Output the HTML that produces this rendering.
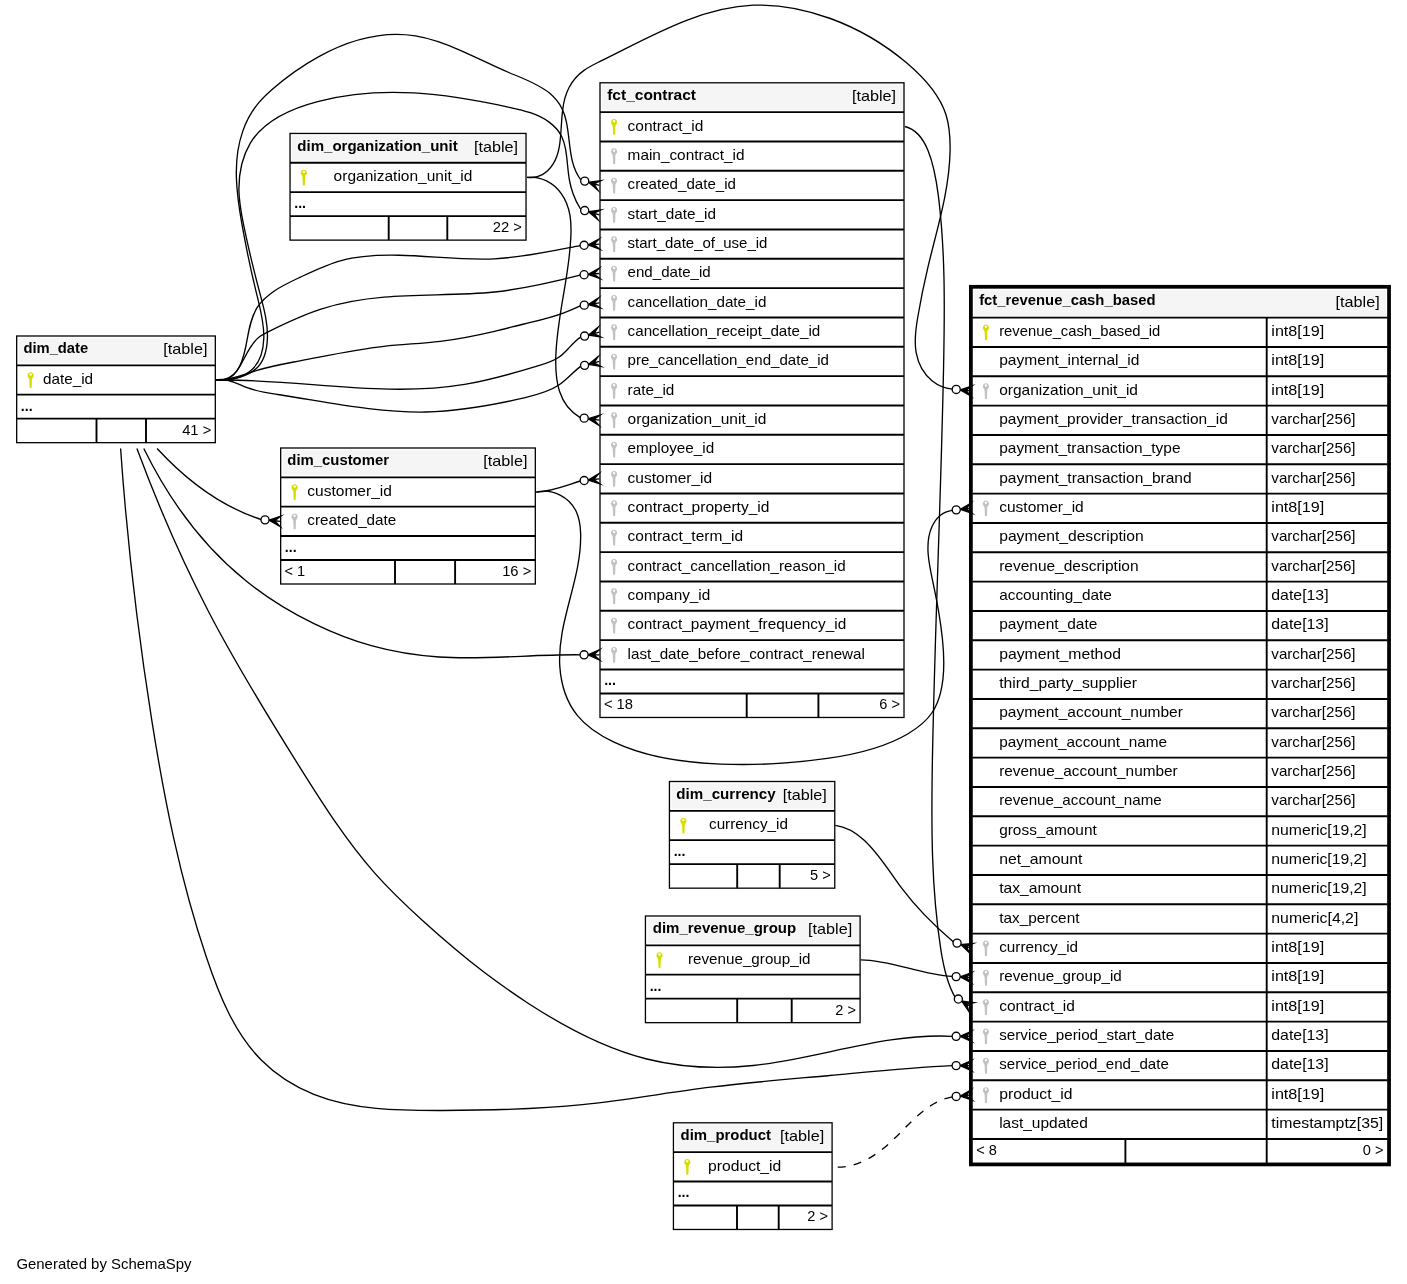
<!DOCTYPE html>
<html><head><meta charset="utf-8"><title>fct_revenue_cash_based</title>
<style>
html,body{margin:0;padding:0;background:#fff;}
svg{display:block;will-change:transform}
text{font-family:"Liberation Sans",sans-serif;font-size:15.0px;fill:#000;}
text.b{font-weight:bold}
</style></head><body>
<svg width="1407" height="1284" viewBox="0 0 1407 1284">
<defs>
<g id="k"><path fill-rule="evenodd" d="M0,-0.1a3.15,3.15 0 0 1 1.9,5.65 L1.2,7.4 L1.35,7.8 L1.15,8.3 L1.4,8.8 L1.15,9.4 L1.4,10 L1.15,10.6 L1.35,11.1 L1.15,11.7 L1.15,15.2 Q0.1,16.3 -0.95,15.2 L-1.3,7.4 L-1.9,5.55 A3.15,3.15 0 0 1 0,-0.1 Z M0,0.9 a1.2,1.2 0 1 0 0.001,0 Z"/></g>
</defs>
<rect width="1407" height="1284" fill="#fff"/>
<g>
<rect x="16.67" y="336.00" width="198.66" height="106.67" fill="#fff"/>
<rect x="18.67" y="338.00" width="196.01" height="25.13" fill="#f5f5f5"/>
<text x="23.40" y="353.20" textLength="64.80" lengthAdjust="spacingAndGlyphs" class="b">dim_date</text>
<text x="163.31" y="354.45" textLength="44.13" lengthAdjust="spacingAndGlyphs">[table]</text>
<use href="#k" x="30.60" y="372.33" fill="#d6de00"/>
<text x="43.00" y="383.73" textLength="50.06" lengthAdjust="spacingAndGlyphs">date_id</text>
<text x="20.87" y="410.57" textLength="11.77" lengthAdjust="spacingAndGlyphs" class="b">...</text>
<text x="182.16" y="434.57" textLength="29.10" lengthAdjust="spacingAndGlyphs">41 &gt;</text>
<line x1="16.67" y1="365.33" x2="215.33" y2="365.33" stroke="#000" stroke-width="1.900"/>
<line x1="16.67" y1="394.67" x2="215.33" y2="394.67" stroke="#000" stroke-width="1.900"/>
<line x1="16.67" y1="418.67" x2="215.33" y2="418.67" stroke="#000" stroke-width="1.900"/>
<line x1="96.50" y1="418.67" x2="96.50" y2="442.67" stroke="#000" stroke-width="1.900"/>
<line x1="146.00" y1="418.67" x2="146.00" y2="442.67" stroke="#000" stroke-width="1.900"/>
<rect x="16.67" y="336.00" width="198.66" height="106.67" fill="none" stroke="#000" stroke-width="1.300"/>
<rect x="290.03" y="133.45" width="236.00" height="106.67" fill="#fff"/>
<rect x="292.03" y="135.45" width="233.35" height="25.13" fill="#f5f5f5"/>
<text x="297.30" y="150.65" textLength="160.43" lengthAdjust="spacingAndGlyphs" class="b">dim_organization_unit</text>
<text x="474.01" y="151.90" textLength="44.13" lengthAdjust="spacingAndGlyphs">[table]</text>
<use href="#k" x="303.80" y="169.78" fill="#d6de00"/>
<text x="333.60" y="181.18" textLength="138.80" lengthAdjust="spacingAndGlyphs">organization_unit_id</text>
<text x="294.23" y="208.02" textLength="11.77" lengthAdjust="spacingAndGlyphs" class="b">...</text>
<text x="492.86" y="232.02" textLength="29.10" lengthAdjust="spacingAndGlyphs">22 &gt;</text>
<line x1="290.03" y1="162.78" x2="526.03" y2="162.78" stroke="#000" stroke-width="1.900"/>
<line x1="290.03" y1="192.12" x2="526.03" y2="192.12" stroke="#000" stroke-width="1.900"/>
<line x1="290.03" y1="216.12" x2="526.03" y2="216.12" stroke="#000" stroke-width="1.900"/>
<line x1="388.70" y1="216.12" x2="388.70" y2="240.12" stroke="#000" stroke-width="1.900"/>
<line x1="447.30" y1="216.12" x2="447.30" y2="240.12" stroke="#000" stroke-width="1.900"/>
<rect x="290.03" y="133.45" width="236.00" height="106.67" fill="none" stroke="#000" stroke-width="1.300"/>
<rect x="280.67" y="448.00" width="254.66" height="136.00" fill="#fff"/>
<rect x="282.67" y="450.00" width="252.01" height="25.13" fill="#f5f5f5"/>
<text x="287.30" y="465.20" textLength="101.71" lengthAdjust="spacingAndGlyphs" class="b">dim_customer</text>
<text x="483.31" y="466.45" textLength="44.13" lengthAdjust="spacingAndGlyphs">[table]</text>
<use href="#k" x="294.60" y="484.33" fill="#d6de00"/>
<text x="307.30" y="495.73" textLength="84.57" lengthAdjust="spacingAndGlyphs">customer_id</text>
<use href="#k" x="294.60" y="513.67" fill="#c2c2c2"/>
<text x="307.30" y="525.07" textLength="89.00" lengthAdjust="spacingAndGlyphs">created_date</text>
<text x="284.87" y="551.90" textLength="11.77" lengthAdjust="spacingAndGlyphs" class="b">...</text>
<text x="284.57" y="575.90" textLength="20.68" lengthAdjust="spacingAndGlyphs">&lt; 1</text>
<text x="502.16" y="575.90" textLength="29.10" lengthAdjust="spacingAndGlyphs">16 &gt;</text>
<line x1="280.67" y1="477.33" x2="535.33" y2="477.33" stroke="#000" stroke-width="1.900"/>
<line x1="280.67" y1="506.67" x2="535.33" y2="506.67" stroke="#000" stroke-width="1.900"/>
<line x1="280.67" y1="536.00" x2="535.33" y2="536.00" stroke="#000" stroke-width="1.900"/>
<line x1="280.67" y1="560.00" x2="535.33" y2="560.00" stroke="#000" stroke-width="1.900"/>
<line x1="395.00" y1="560.00" x2="395.00" y2="584.00" stroke="#000" stroke-width="1.900"/>
<line x1="455.10" y1="560.00" x2="455.10" y2="584.00" stroke="#000" stroke-width="1.900"/>
<rect x="280.67" y="448.00" width="254.66" height="136.00" fill="none" stroke="#000" stroke-width="1.300"/>
<rect x="600.00" y="82.80" width="304.00" height="634.67" fill="#fff"/>
<rect x="602.00" y="84.80" width="301.35" height="25.13" fill="#f5f5f5"/>
<text x="607.20" y="100.00" textLength="88.78" lengthAdjust="spacingAndGlyphs" class="b">fct_contract</text>
<text x="851.98" y="101.25" textLength="44.13" lengthAdjust="spacingAndGlyphs">[table]</text>
<use href="#k" x="614.05" y="119.13" fill="#d6de00"/>
<text x="627.60" y="130.53" textLength="75.72" lengthAdjust="spacingAndGlyphs">contract_id</text>
<use href="#k" x="614.05" y="148.47" fill="#c2c2c2"/>
<text x="627.60" y="159.87" textLength="116.97" lengthAdjust="spacingAndGlyphs">main_contract_id</text>
<use href="#k" x="614.05" y="177.80" fill="#c2c2c2"/>
<text x="627.60" y="189.20" textLength="108.38" lengthAdjust="spacingAndGlyphs">created_date_id</text>
<use href="#k" x="614.05" y="207.13" fill="#c2c2c2"/>
<text x="627.60" y="218.53" textLength="88.40" lengthAdjust="spacingAndGlyphs">start_date_id</text>
<use href="#k" x="614.05" y="236.47" fill="#c2c2c2"/>
<text x="627.60" y="247.87" textLength="139.82" lengthAdjust="spacingAndGlyphs">start_date_of_use_id</text>
<use href="#k" x="614.05" y="265.80" fill="#c2c2c2"/>
<text x="627.60" y="277.20" textLength="83.07" lengthAdjust="spacingAndGlyphs">end_date_id</text>
<use href="#k" x="614.05" y="295.13" fill="#c2c2c2"/>
<text x="627.60" y="306.53" textLength="138.76" lengthAdjust="spacingAndGlyphs">cancellation_date_id</text>
<use href="#k" x="614.05" y="324.47" fill="#c2c2c2"/>
<text x="627.60" y="335.87" textLength="192.67" lengthAdjust="spacingAndGlyphs">cancellation_receipt_date_id</text>
<use href="#k" x="614.05" y="353.80" fill="#c2c2c2"/>
<text x="627.60" y="365.20" textLength="201.35" lengthAdjust="spacingAndGlyphs">pre_cancellation_end_date_id</text>
<use href="#k" x="614.05" y="383.13" fill="#c2c2c2"/>
<text x="627.60" y="394.53" textLength="46.77" lengthAdjust="spacingAndGlyphs">rate_id</text>
<use href="#k" x="614.05" y="412.47" fill="#c2c2c2"/>
<text x="627.60" y="423.87" textLength="138.80" lengthAdjust="spacingAndGlyphs">organization_unit_id</text>
<use href="#k" x="614.05" y="441.80" fill="#c2c2c2"/>
<text x="627.60" y="453.20" textLength="86.68" lengthAdjust="spacingAndGlyphs">employee_id</text>
<use href="#k" x="614.05" y="471.13" fill="#c2c2c2"/>
<text x="627.60" y="482.53" textLength="84.57" lengthAdjust="spacingAndGlyphs">customer_id</text>
<use href="#k" x="614.05" y="500.47" fill="#c2c2c2"/>
<text x="627.60" y="511.87" textLength="141.90" lengthAdjust="spacingAndGlyphs">contract_property_id</text>
<use href="#k" x="614.05" y="529.80" fill="#c2c2c2"/>
<text x="627.60" y="541.20" textLength="115.46" lengthAdjust="spacingAndGlyphs">contract_term_id</text>
<use href="#k" x="614.05" y="559.13" fill="#c2c2c2"/>
<text x="627.60" y="570.53" textLength="218.13" lengthAdjust="spacingAndGlyphs">contract_cancellation_reason_id</text>
<use href="#k" x="614.05" y="588.47" fill="#c2c2c2"/>
<text x="627.60" y="599.87" textLength="82.73" lengthAdjust="spacingAndGlyphs">company_id</text>
<use href="#k" x="614.05" y="617.80" fill="#c2c2c2"/>
<text x="627.60" y="629.20" textLength="218.62" lengthAdjust="spacingAndGlyphs">contract_payment_frequency_id</text>
<use href="#k" x="614.05" y="647.13" fill="#c2c2c2"/>
<text x="627.60" y="658.53" textLength="237.28" lengthAdjust="spacingAndGlyphs">last_date_before_contract_renewal</text>
<text x="604.20" y="685.37" textLength="11.77" lengthAdjust="spacingAndGlyphs" class="b">...</text>
<text x="603.90" y="709.37" textLength="29.10" lengthAdjust="spacingAndGlyphs">&lt; 18</text>
<text x="879.22" y="709.37" textLength="20.68" lengthAdjust="spacingAndGlyphs">6 &gt;</text>
<line x1="600.00" y1="112.13" x2="904.00" y2="112.13" stroke="#000" stroke-width="1.900"/>
<line x1="600.00" y1="141.47" x2="904.00" y2="141.47" stroke="#000" stroke-width="1.900"/>
<line x1="600.00" y1="170.80" x2="904.00" y2="170.80" stroke="#000" stroke-width="1.900"/>
<line x1="600.00" y1="200.13" x2="904.00" y2="200.13" stroke="#000" stroke-width="1.900"/>
<line x1="600.00" y1="229.47" x2="904.00" y2="229.47" stroke="#000" stroke-width="1.900"/>
<line x1="600.00" y1="258.80" x2="904.00" y2="258.80" stroke="#000" stroke-width="1.900"/>
<line x1="600.00" y1="288.13" x2="904.00" y2="288.13" stroke="#000" stroke-width="1.900"/>
<line x1="600.00" y1="317.47" x2="904.00" y2="317.47" stroke="#000" stroke-width="1.900"/>
<line x1="600.00" y1="346.80" x2="904.00" y2="346.80" stroke="#000" stroke-width="1.900"/>
<line x1="600.00" y1="376.13" x2="904.00" y2="376.13" stroke="#000" stroke-width="1.900"/>
<line x1="600.00" y1="405.47" x2="904.00" y2="405.47" stroke="#000" stroke-width="1.900"/>
<line x1="600.00" y1="434.80" x2="904.00" y2="434.80" stroke="#000" stroke-width="1.900"/>
<line x1="600.00" y1="464.13" x2="904.00" y2="464.13" stroke="#000" stroke-width="1.900"/>
<line x1="600.00" y1="493.47" x2="904.00" y2="493.47" stroke="#000" stroke-width="1.900"/>
<line x1="600.00" y1="522.80" x2="904.00" y2="522.80" stroke="#000" stroke-width="1.900"/>
<line x1="600.00" y1="552.13" x2="904.00" y2="552.13" stroke="#000" stroke-width="1.900"/>
<line x1="600.00" y1="581.47" x2="904.00" y2="581.47" stroke="#000" stroke-width="1.900"/>
<line x1="600.00" y1="610.80" x2="904.00" y2="610.80" stroke="#000" stroke-width="1.900"/>
<line x1="600.00" y1="640.13" x2="904.00" y2="640.13" stroke="#000" stroke-width="1.900"/>
<line x1="600.00" y1="669.47" x2="904.00" y2="669.47" stroke="#000" stroke-width="1.900"/>
<line x1="600.00" y1="693.47" x2="904.00" y2="693.47" stroke="#000" stroke-width="1.900"/>
<line x1="746.70" y1="693.47" x2="746.70" y2="717.47" stroke="#000" stroke-width="1.900"/>
<line x1="818.40" y1="693.47" x2="818.40" y2="717.47" stroke="#000" stroke-width="1.900"/>
<rect x="600.00" y="82.80" width="304.00" height="634.67" fill="none" stroke="#000" stroke-width="1.300"/>
<rect x="669.43" y="781.50" width="165.34" height="106.67" fill="#fff"/>
<rect x="671.43" y="783.50" width="162.69" height="25.13" fill="#f5f5f5"/>
<text x="676.30" y="798.70" textLength="99.38" lengthAdjust="spacingAndGlyphs" class="b">dim_currency</text>
<text x="782.75" y="799.95" textLength="44.13" lengthAdjust="spacingAndGlyphs">[table]</text>
<use href="#k" x="683.40" y="817.83" fill="#d6de00"/>
<text x="709.00" y="829.23" textLength="78.92" lengthAdjust="spacingAndGlyphs">currency_id</text>
<text x="673.63" y="856.07" textLength="11.77" lengthAdjust="spacingAndGlyphs" class="b">...</text>
<text x="809.99" y="880.07" textLength="20.68" lengthAdjust="spacingAndGlyphs">5 &gt;</text>
<line x1="669.43" y1="810.83" x2="834.77" y2="810.83" stroke="#000" stroke-width="1.900"/>
<line x1="669.43" y1="840.17" x2="834.77" y2="840.17" stroke="#000" stroke-width="1.900"/>
<line x1="669.43" y1="864.17" x2="834.77" y2="864.17" stroke="#000" stroke-width="1.900"/>
<line x1="737.20" y1="864.17" x2="737.20" y2="888.17" stroke="#000" stroke-width="1.900"/>
<line x1="779.70" y1="864.17" x2="779.70" y2="888.17" stroke="#000" stroke-width="1.900"/>
<rect x="669.43" y="781.50" width="165.34" height="106.67" fill="none" stroke="#000" stroke-width="1.300"/>
<rect x="645.43" y="916.00" width="214.67" height="106.67" fill="#fff"/>
<rect x="647.43" y="918.00" width="212.02" height="25.13" fill="#f5f5f5"/>
<text x="652.75" y="933.20" textLength="143.37" lengthAdjust="spacingAndGlyphs" class="b">dim_revenue_group</text>
<text x="808.08" y="934.45" textLength="44.13" lengthAdjust="spacingAndGlyphs">[table]</text>
<use href="#k" x="659.50" y="952.33" fill="#d6de00"/>
<text x="688.00" y="963.73" textLength="122.53" lengthAdjust="spacingAndGlyphs">revenue_group_id</text>
<text x="649.63" y="990.57" textLength="11.77" lengthAdjust="spacingAndGlyphs" class="b">...</text>
<text x="835.32" y="1014.57" textLength="20.68" lengthAdjust="spacingAndGlyphs">2 &gt;</text>
<line x1="645.43" y1="945.33" x2="860.10" y2="945.33" stroke="#000" stroke-width="1.900"/>
<line x1="645.43" y1="974.67" x2="860.10" y2="974.67" stroke="#000" stroke-width="1.900"/>
<line x1="645.43" y1="998.67" x2="860.10" y2="998.67" stroke="#000" stroke-width="1.900"/>
<line x1="737.20" y1="998.67" x2="737.20" y2="1022.67" stroke="#000" stroke-width="1.900"/>
<line x1="791.70" y1="998.67" x2="791.70" y2="1022.67" stroke="#000" stroke-width="1.900"/>
<rect x="645.43" y="916.00" width="214.67" height="106.67" fill="none" stroke="#000" stroke-width="1.300"/>
<rect x="673.43" y="1122.80" width="158.67" height="106.67" fill="#fff"/>
<rect x="675.43" y="1124.80" width="156.02" height="25.13" fill="#f5f5f5"/>
<text x="680.60" y="1140.00" textLength="90.31" lengthAdjust="spacingAndGlyphs" class="b">dim_product</text>
<text x="780.08" y="1141.25" textLength="44.13" lengthAdjust="spacingAndGlyphs">[table]</text>
<use href="#k" x="687.30" y="1159.13" fill="#d6de00"/>
<text x="708.00" y="1170.53" textLength="73.33" lengthAdjust="spacingAndGlyphs">product_id</text>
<text x="677.63" y="1197.37" textLength="11.77" lengthAdjust="spacingAndGlyphs" class="b">...</text>
<text x="807.32" y="1221.37" textLength="20.68" lengthAdjust="spacingAndGlyphs">2 &gt;</text>
<line x1="673.43" y1="1152.13" x2="832.10" y2="1152.13" stroke="#000" stroke-width="1.900"/>
<line x1="673.43" y1="1181.47" x2="832.10" y2="1181.47" stroke="#000" stroke-width="1.900"/>
<line x1="673.43" y1="1205.47" x2="832.10" y2="1205.47" stroke="#000" stroke-width="1.900"/>
<line x1="737.00" y1="1205.47" x2="737.00" y2="1229.47" stroke="#000" stroke-width="1.900"/>
<line x1="778.70" y1="1205.47" x2="778.70" y2="1229.47" stroke="#000" stroke-width="1.900"/>
<rect x="673.43" y="1122.80" width="158.67" height="106.67" fill="none" stroke="#000" stroke-width="1.300"/>
<rect x="970.89" y="286.80" width="418.15" height="877.62" fill="#fff"/>
<rect x="974.12" y="290.23" width="411.95" height="25.88" fill="#f5f5f5"/>
<text x="979.20" y="305.48" textLength="176.31" lengthAdjust="spacingAndGlyphs" class="b">fct_revenue_cash_based</text>
<text x="1335.55" y="306.73" textLength="44.13" lengthAdjust="spacingAndGlyphs">[table]</text>
<text x="1271.30" y="336.01" textLength="53.00" lengthAdjust="spacingAndGlyphs">int8[19]</text>
<use href="#k" x="985.90" y="324.61" fill="#d6de00"/>
<text x="999.20" y="336.01" textLength="161.15" lengthAdjust="spacingAndGlyphs">revenue_cash_based_id</text>
<text x="1271.30" y="365.35" textLength="53.00" lengthAdjust="spacingAndGlyphs">int8[19]</text>
<text x="999.20" y="365.35" textLength="140.13" lengthAdjust="spacingAndGlyphs">payment_internal_id</text>
<text x="1271.30" y="394.68" textLength="53.00" lengthAdjust="spacingAndGlyphs">int8[19]</text>
<use href="#k" x="985.90" y="383.28" fill="#c2c2c2"/>
<text x="999.20" y="394.68" textLength="138.80" lengthAdjust="spacingAndGlyphs">organization_unit_id</text>
<text x="1271.30" y="424.01" textLength="84.28" lengthAdjust="spacingAndGlyphs">varchar[256]</text>
<text x="999.20" y="424.01" textLength="228.58" lengthAdjust="spacingAndGlyphs">payment_provider_transaction_id</text>
<text x="1271.30" y="453.35" textLength="84.28" lengthAdjust="spacingAndGlyphs">varchar[256]</text>
<text x="999.20" y="453.35" textLength="181.30" lengthAdjust="spacingAndGlyphs">payment_transaction_type</text>
<text x="1271.30" y="482.68" textLength="84.28" lengthAdjust="spacingAndGlyphs">varchar[256]</text>
<text x="999.20" y="482.68" textLength="192.47" lengthAdjust="spacingAndGlyphs">payment_transaction_brand</text>
<text x="1271.30" y="512.01" textLength="53.00" lengthAdjust="spacingAndGlyphs">int8[19]</text>
<use href="#k" x="985.90" y="500.61" fill="#c2c2c2"/>
<text x="999.20" y="512.01" textLength="84.57" lengthAdjust="spacingAndGlyphs">customer_id</text>
<text x="1271.30" y="541.35" textLength="84.28" lengthAdjust="spacingAndGlyphs">varchar[256]</text>
<text x="999.20" y="541.35" textLength="144.49" lengthAdjust="spacingAndGlyphs">payment_description</text>
<text x="1271.30" y="570.68" textLength="84.28" lengthAdjust="spacingAndGlyphs">varchar[256]</text>
<text x="999.20" y="570.68" textLength="139.39" lengthAdjust="spacingAndGlyphs">revenue_description</text>
<text x="1271.30" y="600.01" textLength="57.26" lengthAdjust="spacingAndGlyphs">date[13]</text>
<text x="999.20" y="600.01" textLength="112.61" lengthAdjust="spacingAndGlyphs">accounting_date</text>
<text x="1271.30" y="629.35" textLength="57.26" lengthAdjust="spacingAndGlyphs">date[13]</text>
<text x="999.20" y="629.35" textLength="98.14" lengthAdjust="spacingAndGlyphs">payment_date</text>
<text x="1271.30" y="658.68" textLength="84.28" lengthAdjust="spacingAndGlyphs">varchar[256]</text>
<text x="999.20" y="658.68" textLength="121.72" lengthAdjust="spacingAndGlyphs">payment_method</text>
<text x="1271.30" y="688.01" textLength="84.28" lengthAdjust="spacingAndGlyphs">varchar[256]</text>
<text x="999.20" y="688.01" textLength="137.72" lengthAdjust="spacingAndGlyphs">third_party_supplier</text>
<text x="1271.30" y="717.35" textLength="84.28" lengthAdjust="spacingAndGlyphs">varchar[256]</text>
<text x="999.20" y="717.35" textLength="183.68" lengthAdjust="spacingAndGlyphs">payment_account_number</text>
<text x="1271.30" y="746.68" textLength="84.28" lengthAdjust="spacingAndGlyphs">varchar[256]</text>
<text x="999.20" y="746.68" textLength="167.77" lengthAdjust="spacingAndGlyphs">payment_account_name</text>
<text x="1271.30" y="776.01" textLength="84.28" lengthAdjust="spacingAndGlyphs">varchar[256]</text>
<text x="999.20" y="776.01" textLength="178.50" lengthAdjust="spacingAndGlyphs">revenue_account_number</text>
<text x="1271.30" y="805.35" textLength="84.28" lengthAdjust="spacingAndGlyphs">varchar[256]</text>
<text x="999.20" y="805.35" textLength="162.59" lengthAdjust="spacingAndGlyphs">revenue_account_name</text>
<text x="1271.30" y="834.68" textLength="95.42" lengthAdjust="spacingAndGlyphs">numeric[19,2]</text>
<text x="999.20" y="834.68" textLength="97.54" lengthAdjust="spacingAndGlyphs">gross_amount</text>
<text x="1271.30" y="864.01" textLength="95.42" lengthAdjust="spacingAndGlyphs">numeric[19,2]</text>
<text x="999.20" y="864.01" textLength="83.24" lengthAdjust="spacingAndGlyphs">net_amount</text>
<text x="1271.30" y="893.35" textLength="95.42" lengthAdjust="spacingAndGlyphs">numeric[19,2]</text>
<text x="999.20" y="893.35" textLength="81.82" lengthAdjust="spacingAndGlyphs">tax_amount</text>
<text x="1271.30" y="922.68" textLength="87.00" lengthAdjust="spacingAndGlyphs">numeric[4,2]</text>
<text x="999.20" y="922.68" textLength="80.27" lengthAdjust="spacingAndGlyphs">tax_percent</text>
<text x="1271.30" y="952.01" textLength="53.00" lengthAdjust="spacingAndGlyphs">int8[19]</text>
<use href="#k" x="985.90" y="940.61" fill="#c2c2c2"/>
<text x="999.20" y="952.01" textLength="78.92" lengthAdjust="spacingAndGlyphs">currency_id</text>
<text x="1271.30" y="981.35" textLength="53.00" lengthAdjust="spacingAndGlyphs">int8[19]</text>
<use href="#k" x="985.90" y="969.95" fill="#c2c2c2"/>
<text x="999.20" y="981.35" textLength="122.53" lengthAdjust="spacingAndGlyphs">revenue_group_id</text>
<text x="1271.30" y="1010.68" textLength="53.00" lengthAdjust="spacingAndGlyphs">int8[19]</text>
<use href="#k" x="985.90" y="999.28" fill="#c2c2c2"/>
<text x="999.20" y="1010.68" textLength="75.72" lengthAdjust="spacingAndGlyphs">contract_id</text>
<text x="1271.30" y="1040.01" textLength="57.26" lengthAdjust="spacingAndGlyphs">date[13]</text>
<use href="#k" x="985.90" y="1028.61" fill="#c2c2c2"/>
<text x="999.20" y="1040.01" textLength="174.93" lengthAdjust="spacingAndGlyphs">service_period_start_date</text>
<text x="1271.30" y="1069.35" textLength="57.26" lengthAdjust="spacingAndGlyphs">date[13]</text>
<use href="#k" x="985.90" y="1057.95" fill="#c2c2c2"/>
<text x="999.20" y="1069.35" textLength="169.60" lengthAdjust="spacingAndGlyphs">service_period_end_date</text>
<text x="1271.30" y="1098.68" textLength="53.00" lengthAdjust="spacingAndGlyphs">int8[19]</text>
<use href="#k" x="985.90" y="1087.28" fill="#c2c2c2"/>
<text x="999.20" y="1098.68" textLength="73.33" lengthAdjust="spacingAndGlyphs">product_id</text>
<text x="1271.30" y="1128.01" textLength="111.94" lengthAdjust="spacingAndGlyphs">timestamptz[35]</text>
<text x="999.20" y="1128.01" textLength="88.62" lengthAdjust="spacingAndGlyphs">last_updated</text>
<text x="976.27" y="1154.85" textLength="20.68" lengthAdjust="spacingAndGlyphs">&lt; 8</text>
<text x="1362.79" y="1154.85" textLength="20.68" lengthAdjust="spacingAndGlyphs">0 &gt;</text>
<line x1="972.37" y1="317.61" x2="1387.57" y2="317.61" stroke="#000" stroke-width="1.900"/>
<line x1="972.37" y1="346.95" x2="1387.57" y2="346.95" stroke="#000" stroke-width="1.900"/>
<line x1="972.37" y1="376.28" x2="1387.57" y2="376.28" stroke="#000" stroke-width="1.900"/>
<line x1="972.37" y1="405.61" x2="1387.57" y2="405.61" stroke="#000" stroke-width="1.900"/>
<line x1="972.37" y1="434.95" x2="1387.57" y2="434.95" stroke="#000" stroke-width="1.900"/>
<line x1="972.37" y1="464.28" x2="1387.57" y2="464.28" stroke="#000" stroke-width="1.900"/>
<line x1="972.37" y1="493.61" x2="1387.57" y2="493.61" stroke="#000" stroke-width="1.900"/>
<line x1="972.37" y1="522.95" x2="1387.57" y2="522.95" stroke="#000" stroke-width="1.900"/>
<line x1="972.37" y1="552.28" x2="1387.57" y2="552.28" stroke="#000" stroke-width="1.900"/>
<line x1="972.37" y1="581.61" x2="1387.57" y2="581.61" stroke="#000" stroke-width="1.900"/>
<line x1="972.37" y1="610.95" x2="1387.57" y2="610.95" stroke="#000" stroke-width="1.900"/>
<line x1="972.37" y1="640.28" x2="1387.57" y2="640.28" stroke="#000" stroke-width="1.900"/>
<line x1="972.37" y1="669.61" x2="1387.57" y2="669.61" stroke="#000" stroke-width="1.900"/>
<line x1="972.37" y1="698.95" x2="1387.57" y2="698.95" stroke="#000" stroke-width="1.900"/>
<line x1="972.37" y1="728.28" x2="1387.57" y2="728.28" stroke="#000" stroke-width="1.900"/>
<line x1="972.37" y1="757.61" x2="1387.57" y2="757.61" stroke="#000" stroke-width="1.900"/>
<line x1="972.37" y1="786.95" x2="1387.57" y2="786.95" stroke="#000" stroke-width="1.900"/>
<line x1="972.37" y1="816.28" x2="1387.57" y2="816.28" stroke="#000" stroke-width="1.900"/>
<line x1="972.37" y1="845.61" x2="1387.57" y2="845.61" stroke="#000" stroke-width="1.900"/>
<line x1="972.37" y1="874.95" x2="1387.57" y2="874.95" stroke="#000" stroke-width="1.900"/>
<line x1="972.37" y1="904.28" x2="1387.57" y2="904.28" stroke="#000" stroke-width="1.900"/>
<line x1="972.37" y1="933.61" x2="1387.57" y2="933.61" stroke="#000" stroke-width="1.900"/>
<line x1="972.37" y1="962.95" x2="1387.57" y2="962.95" stroke="#000" stroke-width="1.900"/>
<line x1="972.37" y1="992.28" x2="1387.57" y2="992.28" stroke="#000" stroke-width="1.900"/>
<line x1="972.37" y1="1021.61" x2="1387.57" y2="1021.61" stroke="#000" stroke-width="1.900"/>
<line x1="972.37" y1="1050.95" x2="1387.57" y2="1050.95" stroke="#000" stroke-width="1.900"/>
<line x1="972.37" y1="1080.28" x2="1387.57" y2="1080.28" stroke="#000" stroke-width="1.900"/>
<line x1="972.37" y1="1109.61" x2="1387.57" y2="1109.61" stroke="#000" stroke-width="1.900"/>
<line x1="972.37" y1="1138.95" x2="1387.57" y2="1138.95" stroke="#000" stroke-width="1.900"/>
<line x1="1266.70" y1="317.61" x2="1266.70" y2="1138.95" stroke="#000" stroke-width="1.900"/>
<line x1="1125.40" y1="1138.95" x2="1125.40" y2="1162.95" stroke="#000" stroke-width="1.900"/>
<line x1="1266.70" y1="1138.95" x2="1266.70" y2="1162.95" stroke="#000" stroke-width="1.900"/>
<rect x="970.89" y="286.80" width="418.15" height="877.62" fill="none" stroke="#000" stroke-width="3.75"/>
<text x="16.40" y="1268.90" textLength="175.18" lengthAdjust="spacingAndGlyphs">Generated by SchemaSpy</text>
</g>
<g fill="none" stroke="#000" stroke-width="1.333">
<path d="M216.0,380.1C228.6,381.3 243.7,377.8 252.6,369.0C260.3,361.4 263.4,349.8 263.8,338.5C264.4,324.1 260.6,310.1 257.2,296.2C251.3,272.5 246.4,249.2 242.1,225.2C236.5,193.8 232.2,160.9 242.8,131.1C246.5,120.6 252.1,110.5 259.3,102.1C263.1,97.6 267.4,93.6 271.8,89.7C286.1,77.2 301.6,66.0 318.4,56.8C348.1,40.5 382.1,30.6 415.4,35.9C431.5,38.5 447.6,44.6 462.6,51.3C478.2,58.2 492.8,65.8 508.8,72.5C522.9,78.4 538.1,83.7 549.5,93.1C554.8,97.6 559.3,102.9 562.3,109.2C564.1,112.9 565.3,117.0 566.2,121.2C570.7,141.0 568.3,163.1 580.8,179.9"/>
<polygon fill="#000" stroke-miterlimit="10" points="588.60,182.26 597.89,190.30 593.96,183.86 599.33,185.47 593.96,183.86 600.77,180.64"/>
<circle cx="584.72" cy="181.10" r="4.05" fill="#fff"/>
<path d="M216.0,380.1C228.2,380.0 245.7,378.0 255.7,369.1C263.9,361.8 267.0,349.9 267.4,338.4C268.0,323.0 263.9,308.4 260.0,293.7C253.9,270.8 248.3,247.8 243.6,224.9C241.2,213.1 238.9,201.3 238.9,188.9C238.9,173.0 242.5,156.2 250.3,143.1C264.2,120.0 291.4,108.3 318.6,101.3C382.0,84.8 445.7,93.5 509.3,107.3C523.6,110.4 537.8,113.7 549.1,122.1C554.4,126.0 559.1,131.0 561.9,137.0C563.7,140.8 564.8,145.0 565.6,149.3C567.5,159.8 567.6,170.6 569.6,181.0C570.4,185.1 571.5,189.2 572.9,193.2C574.9,198.9 577.5,204.3 580.8,209.5"/>
<polygon fill="#000" stroke-miterlimit="10" points="588.57,211.70 597.94,219.64 593.95,213.25 599.33,214.80 593.95,213.25 600.72,209.96"/>
<circle cx="584.68" cy="210.58" r="4.05" fill="#fff"/>
<path d="M216.0,380.1C226.0,380.6 232.6,376.6 237.1,370.6C241.7,364.3 243.9,355.7 245.7,347.0C248.5,333.1 250.1,318.7 257.1,307.7C261.4,300.9 267.7,295.4 274.7,290.7C282.6,285.5 291.4,281.4 300.0,277.3C314.0,270.7 327.5,264.1 342.1,260.3C348.9,258.5 356.0,257.4 363.1,256.6C406.7,251.8 450.7,260.9 494.4,258.8C523.2,257.4 551.9,251.1 580.1,245.6"/>
<polygon fill="#000" stroke-miterlimit="10" points="588.16,244.96 599.70,249.16 593.75,244.55 599.33,244.13 593.75,244.55 598.96,239.11"/>
<circle cx="584.12" cy="245.26" r="4.05" fill="#fff"/>
<path d="M216.0,380.1C231.9,382.7 238.2,370.0 244.4,358.0C248.6,349.7 252.8,341.6 259.8,336.5C262.3,334.7 265.2,333.2 268.1,331.8C285.3,323.3 302.8,314.9 321.0,309.1C341.5,302.4 362.7,298.9 384.1,297.1C420.7,293.9 457.8,295.8 494.4,292.0C523.4,288.9 552.0,282.3 580.1,275.1"/>
<polygon fill="#000" stroke-miterlimit="10" points="588.17,274.41 599.76,278.49 593.75,273.94 599.33,273.47 593.75,273.94 598.90,268.44"/>
<circle cx="584.13" cy="274.75" r="4.05" fill="#fff"/>
<path d="M216.0,380.1C230.4,380.3 243.5,374.5 257.0,370.4C271.0,366.1 285.5,363.6 299.9,360.8C327.9,355.5 355.7,349.4 384.0,346.3C402.7,344.2 421.6,343.5 440.3,341.3C458.5,339.1 476.5,335.5 494.4,331.3C504.3,329.0 514.2,326.4 524.1,324.0C537.5,320.7 551.0,317.7 563.9,312.8C569.4,310.7 574.9,308.3 580.3,305.8"/>
<polygon fill="#000" stroke-miterlimit="10" points="588.26,304.52 600.10,307.78 593.80,303.66 599.33,302.80 593.80,303.66 598.56,297.82"/>
<circle cx="584.26" cy="305.14" r="4.05" fill="#fff"/>
<path d="M216.0,380.1C298.8,378.6 382.5,398.0 464.7,384.4C489.7,380.2 514.7,373.0 538.7,365.7C546.1,363.5 553.3,361.3 559.5,356.8C562.7,354.5 565.6,351.5 568.4,348.5C572.3,344.3 576.1,339.9 580.7,337.1"/>
<polygon fill="#000" stroke-miterlimit="10" points="588.51,335.04 600.64,337.00 593.92,333.59 599.33,332.13 593.92,333.59 598.02,327.27"/>
<circle cx="584.60" cy="336.09" r="4.05" fill="#fff"/>
<path d="M216.0,380.1C227.3,377.6 237.0,383.9 247.2,387.7C257.1,391.5 267.5,392.9 277.9,394.5C326.8,401.9 376.7,412.9 426.2,412.0C459.1,411.3 491.8,405.4 524.2,397.9C536.6,395.0 549.0,391.9 559.2,384.8C566.8,379.5 573.2,371.9 580.7,366.4"/>
<polygon fill="#000" stroke-miterlimit="10" points="588.50,364.32 600.61,366.34 593.91,362.89 599.33,361.47 593.91,362.89 598.05,356.59"/>
<circle cx="584.58" cy="365.35" r="4.05" fill="#fff"/>
<path d="M157.1,448.5C185.7,479.6 220.4,506.2 261.0,519.5"/>
<polygon fill="#000" stroke-miterlimit="10" points="269.05,520.23 279.72,526.32 274.63,520.77 280.20,521.30 274.63,520.77 280.68,516.28"/>
<circle cx="265.02" cy="519.85" r="4.05" fill="#fff"/>
<path d="M143.8,448.5C168.4,498.7 201.6,544.7 244.7,579.8C265.9,597.2 289.6,611.9 314.5,623.9C332.9,632.8 351.9,640.3 371.3,645.7C393.4,651.9 416.1,655.5 439.1,657.0C485.8,660.0 533.5,654.2 580.0,654.8"/>
<polygon fill="#000" stroke-miterlimit="10" points="588.13,654.80 599.33,659.84 593.73,654.80 599.33,654.80 593.73,654.80 599.33,649.76"/>
<circle cx="584.08" cy="654.80" r="4.05" fill="#fff"/>
<path d="M136.9,448.5C157.5,503.9 180.9,558.3 208.1,610.7C236.3,665.2 268.6,717.5 301.3,769.6C323.8,805.4 346.5,841.1 374.3,872.6C389.6,889.9 406.4,905.9 423.6,921.5C443.4,939.4 463.7,956.7 484.8,972.8C498.6,983.2 512.8,993.2 527.3,1002.7C564.3,1026.9 604.1,1048.3 646.7,1059.0C681.2,1067.6 717.6,1069.2 753.2,1065.5C820.0,1058.5 884.2,1032.9 952.1,1036.3"/>
<polygon fill="#000" stroke-miterlimit="10" points="960.20,1036.29 971.41,1041.32 965.80,1036.28 971.40,1036.28 965.80,1036.28 971.39,1031.24"/>
<circle cx="956.15" cy="1036.30" r="4.05" fill="#fff"/>
<path d="M120.6,448.5C126.9,539.0 137.6,630.6 151.8,720.4C164.5,800.4 180.0,878.9 206.4,957.3C219.1,995.2 234.4,1033.1 261.5,1060.3C276.1,1075.0 294.3,1086.6 313.8,1094.4C353.3,1110.2 398.4,1110.6 442.2,1110.5C489.9,1110.3 535.9,1109.4 582.4,1104.6C625.0,1100.2 667.9,1092.6 710.7,1087.2C750.5,1082.2 790.1,1079.1 829.8,1075.5C870.5,1071.8 911.3,1067.6 952.1,1065.6"/>
<polygon fill="#000" stroke-miterlimit="10" points="960.20,1065.60 971.40,1070.65 965.80,1065.61 971.40,1065.61 965.80,1065.61 971.40,1060.57"/>
<circle cx="956.15" cy="1065.60" r="4.05" fill="#fff"/>
<path d="M527.0,177.3C533.9,176.7 540.6,178.1 546.5,180.9C552.3,183.8 557.3,188.1 561.1,193.3C565.7,199.6 568.5,207.1 569.9,214.9C571.2,222.5 571.2,230.3 570.8,238.0C569.9,255.9 567.1,273.7 564.1,291.2C560.4,312.8 556.5,334.1 555.8,356.5C555.1,380.0 558.0,404.8 580.2,417.6"/>
<polygon fill="#000" stroke-miterlimit="10" points="588.23,418.67 598.67,425.13 593.78,419.40 599.33,420.13 593.78,419.40 599.99,415.14"/>
<circle cx="584.21" cy="418.14" r="4.05" fill="#fff"/>
<path d="M527.0,177.3C538.6,179.1 547.7,172.6 553.0,164.2C559.8,153.4 560.5,139.4 561.3,126.1C561.8,116.5 562.4,107.1 564.9,98.1C566.0,94.4 567.4,90.7 569.2,87.3C572.7,80.6 578.0,74.7 584.0,70.4C588.8,66.9 594.2,64.3 599.5,61.7C648.1,38.0 698.9,7.4 753.2,5.2C779.1,4.1 805.8,9.5 830.4,18.5C858.4,28.7 883.8,43.6 906.8,63.0C923.8,77.4 939.5,94.2 946.0,114.8C949.5,126.1 950.3,138.5 950.1,150.7C949.3,190.8 937.1,228.5 928.0,266.9C924.0,283.6 920.6,300.4 917.7,317.5C915.7,329.1 914.0,340.8 916.1,352.3C918.1,363.3 923.6,374.0 932.3,380.9C937.9,385.4 944.8,388.2 952.2,389.1"/>
<polygon fill="#000" stroke-miterlimit="10" points="960.25,389.85 970.91,395.96 965.83,390.40 971.40,390.94 965.83,390.40 971.89,385.93"/>
<circle cx="956.22" cy="389.45" r="4.05" fill="#fff"/>
<path d="M536.2,492.1C551.6,491.4 565.7,485.5 580.2,481.0"/>
<polygon fill="#000" stroke-miterlimit="10" points="588.20,480.06 599.90,483.81 593.77,479.43 599.33,478.80 593.77,479.43 598.76,473.79"/>
<circle cx="584.18" cy="480.51" r="4.05" fill="#fff"/>
<path d="M536.2,492.1C553.3,488.1 569.6,497.7 576.2,511.5C579.4,518.2 580.4,525.8 580.6,533.3C582.1,578.6 556.9,621.6 559.8,666.4C561.0,684.1 566.5,702.1 577.5,715.7C586.8,727.2 600.2,735.7 614.0,742.2C647.5,758.0 684.1,762.8 720.6,764.1C756.2,765.5 791.8,763.5 827.2,758.4C855.4,754.4 883.5,748.3 908.1,733.7C917.4,728.1 926.3,721.3 932.2,712.5C936.1,706.6 938.7,699.9 940.5,692.9C945.0,675.3 944.3,656.5 942.4,638.7C940.5,620.7 937.5,603.7 933.6,585.4C929.4,565.7 924.2,544.6 931.8,527.1C935.3,519.0 941.5,511.7 952.2,510.3"/>
<polygon fill="#000" stroke-miterlimit="10" points="960.26,509.43 971.92,513.29 965.83,508.85 971.40,508.28 965.83,508.85 970.88,503.26"/>
<circle cx="956.23" cy="509.85" r="4.05" fill="#fff"/>
<path d="M905.0,126.5C917.3,129.6 923.6,139.7 928.0,150.5C934.0,165.0 936.5,180.9 938.5,196.8C945.0,249.7 944.7,302.3 943.8,355.0C941.4,489.9 934.9,624.9 932.4,760.1C931.3,823.8 931.0,887.5 941.0,950.6C943.5,966.6 946.7,982.6 954.9,996.9"/>
<polygon fill="#000" stroke-miterlimit="10" points="961.83,1001.13 968.78,1011.25 966.61,1004.03 971.40,1006.94 966.61,1004.03 974.02,1002.64"/>
<circle cx="958.37" cy="999.02" r="4.05" fill="#fff"/>
<path d="M835.3,825.3C846.9,826.8 856.2,832.8 864.2,840.3C878.8,853.7 889.5,871.9 901.7,888.2C916.7,908.3 933.9,925.4 953.2,941.7"/>
<polygon fill="#000" stroke-miterlimit="10" points="960.86,944.47 969.69,953.02 966.13,946.38 971.40,948.28 966.13,946.38 973.11,943.54"/>
<circle cx="957.06" cy="943.10" r="4.05" fill="#fff"/>
<path d="M860.9,959.9C892.1,960.3 921.0,974.8 952.1,976.4"/>
<polygon fill="#000" stroke-miterlimit="10" points="960.22,976.88 971.07,982.64 965.81,977.25 971.40,977.61 965.81,977.25 971.73,972.58"/>
<circle cx="956.18" cy="976.62" r="4.05" fill="#fff"/>
<path d="M952.2,1096.8C927.2,1101.8 911.6,1122.0 893.8,1139.1C877.0,1155.2 858.2,1168.6 832.9,1167.1" stroke-dasharray="8 8.2"/>
<polygon fill="#000" stroke-miterlimit="10" points="960.25,1096.04 971.89,1099.96 965.83,1095.49 971.40,1094.94 965.83,1095.49 970.91,1089.93"/>
<circle cx="956.22" cy="1096.44" r="4.05" fill="#fff"/>
</g>
</svg>
</body></html>
